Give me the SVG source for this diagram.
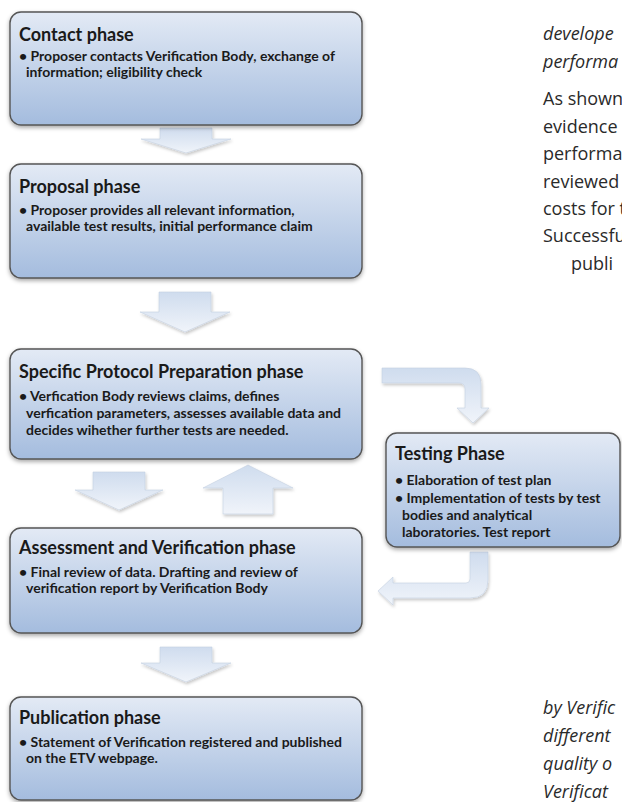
<svg xmlns="http://www.w3.org/2000/svg" width="622" height="802" viewBox="0 0 622 802">
<defs>
<linearGradient id="boxg" x1="0" y1="0" x2="0" y2="1">
<stop offset="0" stop-color="#e3eaf5"/>
<stop offset="1" stop-color="#a4bcde"/>
</linearGradient>
<linearGradient id="arrg" x1="0" y1="0" x2="0" y2="1">
<stop offset="0" stop-color="#cfdcee"/>
<stop offset="1" stop-color="#f0f4fa"/>
</linearGradient>
<filter id="sh" x="-10%" y="-10%" width="120%" height="130%">
<feDropShadow dx="0" dy="2" stdDeviation="2" flood-color="#000" flood-opacity="0.35"/>
</filter>
<filter id="ash" x="-20%" y="-20%" width="140%" height="150%">
<feDropShadow dx="1" dy="2" stdDeviation="1.5" flood-color="#000" flood-opacity="0.22"/>
</filter>
</defs>
<style>
.box{fill:url(#boxg);stroke:#555;stroke-width:1.4;filter:url(#sh)}
.arr{fill:url(#arrg);stroke:#c4d0e0;stroke-width:0.6;filter:url(#ash)}
.t{font-family:Lato,"Open Sans",sans-serif;font-weight:700;font-size:18px;fill:#1a1a1a}
.b{font-family:Lato,"Open Sans",sans-serif;font-weight:700;font-size:14px;fill:#1a1a1a}
.r{font-family:"Open Sans","Noto Sans",sans-serif;font-size:18px;fill:#2a2a2a}
.ri{font-family:"Open Sans","Noto Sans",sans-serif;font-size:18px;font-style:italic;fill:#2a2a2a}
</style>
<rect width="622" height="802" fill="#ffffff"/>

<g id="connectors">
<path class="arr" d="M160,128 H212 V139 H231 L186,153 L141,139 H160 Z"/>
<path class="arr" d="M159,292 H211 V312 H230 L185,332 L140,312 H159 Z"/>
<path class="arr" d="M382,368 H465 Q481,368 481,384 V408 H489 L473,423 L457,408 H465 V389 Q465,383 459,383 H382 Z"/>
<path class="arr" d="M470,552 H488 V580 Q488,598 470,598 H393 V605 L378,591 L393,577 V583 H466 Q470,583 470,579 Z"/>
<path class="arr" d="M93,472 H145 V490 H163 L119,510 L75,490 H93 Z"/>
<path class="arr" d="M248,465 L293,488 H273 V514 H223 V488 H203 Z"/>
<path class="arr" d="M160,647 H212 V663 H231 L186,682 L141,663 H160 Z"/>
</g>

<g id="contact">
<rect class="box" x="10" y="12" width="352" height="113" rx="11"/>
<text class="t" x="19" y="41">Contact phase</text>
<text class="b" x="19" y="61">• Proposer contacts Verification Body, exchange of</text>
<text class="b" x="26" y="77">information; eligibility check</text>
</g>

<g id="proposal">
<rect class="box" x="10" y="164" width="352" height="114" rx="11"/>
<text class="t" x="19" y="193">Proposal phase</text>
<text class="b" x="19" y="215">• Proposer provides all relevant information,</text>
<text class="b" x="26" y="231">available test results, initial performance claim</text>
</g>

<g id="specific">
<rect class="box" x="10" y="349" width="352" height="110" rx="11"/>
<text class="t" x="19" y="378">Specific Protocol Preparation phase</text>
<text class="b" x="19" y="401">• Verfication Body reviews claims, defines</text>
<text class="b" x="26" y="418">verfication parameters, assesses available data and</text>
<text class="b" x="26" y="435">decides wihether further tests are needed.</text>
</g>

<g id="testing">
<rect class="box" x="386" y="433" width="234" height="114" rx="11"/>
<text class="t" x="395" y="460">Testing Phase</text>
<text class="b" x="395" y="485">• Elaboration of test plan</text>
<text class="b" x="395" y="503">• Implementation of tests by test</text>
<text class="b" x="402" y="520">bodies and analytical</text>
<text class="b" x="402" y="537">laboratories. Test report</text>
</g>

<g id="assessment">
<rect class="box" x="10" y="528" width="352" height="105" rx="11"/>
<text class="t" x="19" y="554">Assessment and Verification phase</text>
<text class="b" x="19" y="577">• Final review of data. Drafting and review of</text>
<text class="b" x="26" y="593">verification report by Verification Body</text>
</g>

<g id="publication">
<rect class="box" x="10" y="697" width="352" height="103" rx="11"/>
<text class="t" x="19" y="724">Publication phase</text>
<text class="b" x="19" y="747">• Statement of Verification registered and published</text>
<text class="b" x="26" y="763">on the ETV  webpage.</text>
</g>

<g id="sidetext">
<text class="ri" x="543" y="40">develope</text>
<text class="ri" x="543" y="68">performa</text>
<text class="r" x="543" y="105">As shown</text>
<text class="r" x="543" y="133">evidence</text>
<text class="r" x="543" y="160">performa</text>
<text class="r" x="543" y="188">reviewed</text>
<text class="r" x="543" y="215">costs for t</text>
<text class="r" x="543" y="242">Successfu</text>
<text class="r" x="571" y="270">publi</text>
<text class="ri" x="543" y="714">by Verific</text>
<text class="ri" x="543" y="742">different</text>
<text class="ri" x="543" y="770">quality o</text>
<text class="ri" x="543" y="798">Verificat</text>
</g>
</svg>
